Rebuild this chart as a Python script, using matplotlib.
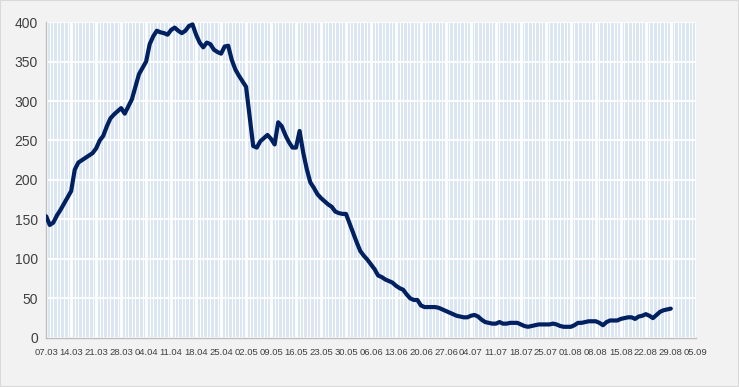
import matplotlib
matplotlib.use("Agg")
import matplotlib.pyplot as plt
import matplotlib.dates as mdates
from matplotlib.patches import Rectangle
import pandas as pd

# Daily values, 07.03 - 29.08
start_date = "2020-03-07"
values = [
    154, 143, 146, 155, 162, 170, 178, 186, 213, 222,
    225, 228, 231, 234, 240, 250, 256, 268, 278, 283,
    287, 291, 284, 293, 302, 318, 334, 342, 350, 372,
    382, 389, 387, 386, 384, 390, 393, 389, 386, 389,
    395, 397, 384, 374, 368, 374, 372, 365, 362, 360,
    369, 370, 352, 340, 332, 325, 318, 280, 243, 241,
    249, 253, 257, 252, 245, 273, 268, 257, 248, 241,
    241, 262, 235, 214, 197, 190, 182, 177, 173, 169,
    166, 160, 158, 157, 157, 145, 133, 121, 110, 104,
    99, 93, 87, 79, 77, 74, 72, 70, 66, 63,
    61, 55, 50, 48, 48, 41, 39, 39, 39, 39,
    38, 36, 34, 32, 30, 28, 27, 26, 26, 28,
    29, 27, 23, 20, 19, 18, 18, 20, 18, 18,
    19, 19, 19, 17, 15, 14, 15, 16, 17, 17,
    17, 17, 18, 17, 15, 14, 14, 14, 16, 19,
    19, 20, 21, 21, 21, 19, 16, 20, 22, 22,
    22, 24, 25, 26, 26, 24, 27, 28, 30, 28,
    25, 29, 33, 35, 36, 37,
]
dates = pd.date_range(start_date, periods=len(values), freq="D")
x_start = pd.Timestamp("2020-03-07")
x_end = pd.Timestamp("2020-09-05")
y_ticks = [0, 50, 100, 150, 200, 250, 300, 350, 400]

fig = plt.figure(figsize=(7.39, 3.87), dpi=100, facecolor="#f2f2f2")
fig.patches.append(Rectangle((0, 0), 1, 1, transform=fig.transFigure,
                             fill=False, edgecolor="#d9d9d9", linewidth=1.5))
ax = fig.add_axes([0.0625, 0.127, 0.879, 0.816])
ax.set_facecolor("#dce6f2")

ax.plot(dates, values, color="#002060", linewidth=3.0, solid_capstyle="round",
        zorder=3)

ax.set_xlim(x_start, x_end)
ax.set_ylim(0, 400)
ax.set_yticks(y_ticks)
ax.set_xticks(pd.date_range(x_start, x_end, freq="7D"))
ax.set_xticks(pd.date_range(x_start, x_end, freq="D"), minor=True)
ax.xaxis.set_major_formatter(mdates.DateFormatter("%d.%m"))

ax.grid(which="minor", axis="x", color="white", linewidth=0.7)
ax.grid(which="major", axis="x", color="white", linewidth=2.0)
ax.grid(which="major", axis="y", color="white", linewidth=1.3)
ax.set_axisbelow(True)

for s in ["top", "right"]:
    ax.spines[s].set_visible(False)
for s in ["left", "bottom"]:
    ax.spines[s].set_color("#bfbfbf")
    ax.spines[s].set_linewidth(1.0)

ax.tick_params(which="both", length=0)
ax.tick_params(axis="y", labelsize=10, labelcolor="#404040", pad=6)
ax.tick_params(axis="x", labelsize=6.8, labelcolor="#404040", pad=7)
for lab in ax.get_xticklabels() + ax.get_yticklabels():
    lab.set_family(["Liberation Sans", "DejaVu Sans"])

fig.savefig("out.png", dpi=100, facecolor=fig.get_facecolor())
